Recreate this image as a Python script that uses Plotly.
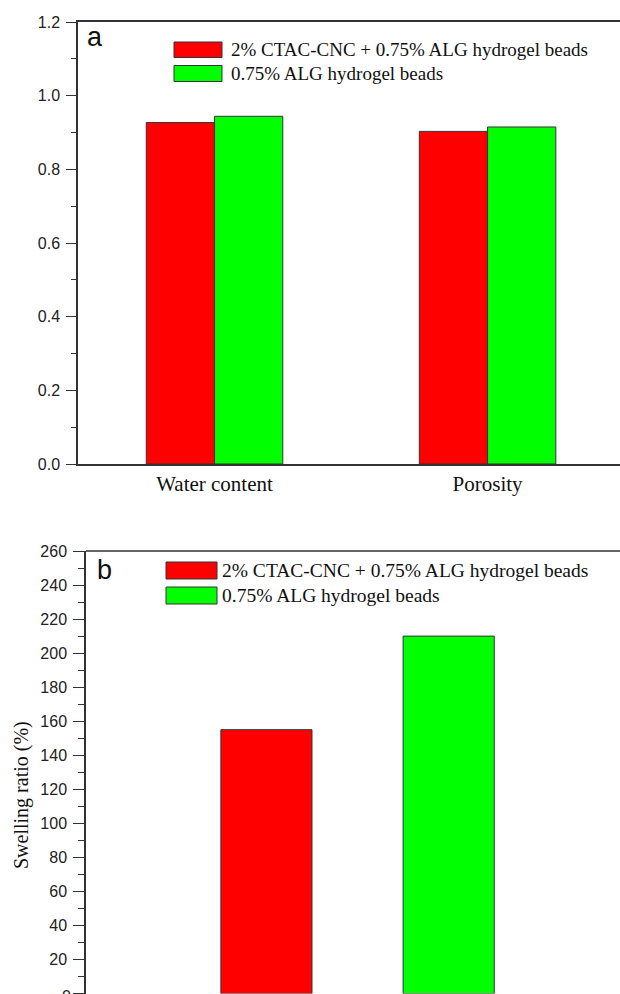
import plotly.graph_objects as go

# ---- data ----
properties = ["Water content", "Porosity"]
composite_props = [0.927, 0.903]     # 2% CTAC-CNC + 0.75% ALG hydrogel beads
alg_props = [0.944, 0.915]           # 0.75% ALG hydrogel beads
series_names = ["2% CTAC-CNC + 0.75% ALG hydrogel beads", "0.75% ALG hydrogel beads"]
swelling = [155, 210]                # Swelling ratio (%)
colors = ["#ff0000", "#00ff00"]

W, H = 620, 994
SERIF = "Liberation Serif, Times New Roman, serif"
SANS = "Liberation Sans, Arial, sans-serif"
LINE = "#333333"

def px(x):
    return x / W

def py(y):
    return 1 - y / H

fig = go.Figure()
fig.add_trace(go.Bar(x=properties, y=composite_props, name=series_names[0],
                     marker=dict(color=colors[0], line=dict(color=LINE, width=1)),
                     xaxis="x", yaxis="y", showlegend=False))
fig.add_trace(go.Bar(x=properties, y=alg_props, name=series_names[1],
                     marker=dict(color=colors[1], line=dict(color=LINE, width=1)),
                     xaxis="x", yaxis="y", showlegend=False))
fig.add_trace(go.Bar(x=series_names, y=swelling,
                     marker=dict(color=colors, line=dict(color=LINE, width=1)),
                     xaxis="x2", yaxis="y2", showlegend=False))

tickfont = dict(family=SANS, size=16, color="#222")

fig.update_layout(
    width=W, height=H, autosize=False,
    margin=dict(l=0, r=0, t=0, b=0),
    paper_bgcolor="white", plot_bgcolor="white",
    barmode="group", bargap=0.5, bargroupgap=0,
    xaxis=dict(domain=[px(78), 1], anchor="y", range=[-0.5, 1.485], automargin=False,
               showline=True, linecolor=LINE, linewidth=1.5, mirror=True,
               ticks="", showgrid=False, zeroline=False,
               tickfont=dict(family=SERIF, size=21, color="#111")),
    yaxis=dict(domain=[py(464), py(22)], anchor="x", range=[0, 1.2], automargin=False,
               dtick=0.2, tickformat=".1f",
               showline=True, linecolor=LINE, linewidth=1.5,
               ticks="outside", ticklen=10, tickwidth=1.2, tickcolor=LINE,
               ticklabelstandoff=3,
               minor=dict(dtick=0.1, ticks="outside", ticklen=5, tickcolor=LINE, tickwidth=1.2),
               showgrid=False, zeroline=False, tickfont=tickfont),
    xaxis2=dict(domain=[px(86), 1], anchor="y2", range=[-0.99, 1.94], automargin=False,
                showline=True, linecolor="#cfcfcf", linewidth=1.5, mirror=False,
                ticks="", showticklabels=False, showgrid=False, zeroline=False),
    yaxis2=dict(domain=[py(993.5), py(551)], anchor="x2", range=[0, 260], automargin=False,
                dtick=20,
                showline=True, linecolor=LINE, linewidth=1.5,
                ticks="outside", ticklen=11, tickwidth=1.2, tickcolor=LINE,
                ticklabelstandoff=3,
                minor=dict(dtick=10, ticks="outside", ticklen=6, tickcolor=LINE, tickwidth=1.2),
                showgrid=False, zeroline=False, tickfont=tickfont),
)

shapes = []
annotations = []

# top border of panel b
shapes.append(dict(type="line", xref="paper", yref="paper", x0=px(86), x1=1,
                   y0=py(551), y1=py(551), line=dict(color=LINE, width=1.5)))

def legend(x0, x1, rows, text_x, size):
    for (y0, y1), col, name in rows:
        shapes.append(dict(type="rect", xref="paper", yref="paper",
                           x0=px(x0), x1=px(x1), y0=py(y1), y1=py(y0),
                           fillcolor=col, line=dict(color=LINE, width=1)))
        annotations.append(dict(xref="paper", yref="paper", x=px(text_x), y=py((y0 + y1) / 2),
                                text=name, showarrow=False, xanchor="left", yanchor="middle",
                                font=dict(family=SERIF, size=size, color="#111")))

legend(174, 222, [((42, 57.5), colors[0], series_names[0]), ((65.5, 81.5), colors[1], series_names[1])], 229, 19)
legend(166, 217, [((562, 579), colors[0], series_names[0]), ((587, 604), colors[1], series_names[1])], 220, 19.5)

annotations.append(dict(xref="paper", yref="paper", x=px(95), y=py(37), text="a", showarrow=False,
                        xanchor="center", yanchor="middle", font=dict(family=SANS, size=27, color="#111")))
annotations.append(dict(xref="paper", yref="paper", x=px(104), y=py(570), text="b", showarrow=False,
                        xanchor="center", yanchor="middle", font=dict(family=SANS, size=27, color="#111")))
annotations.append(dict(xref="paper", yref="paper", x=px(21), y=py(795), text="Swelling ratio (%)",
                        showarrow=False, textangle=-90, xanchor="center", yanchor="middle",
                        font=dict(family=SERIF, size=20, color="#111")))
# partially cut-off "0" tick label at the bottom edge (as in the cropped original)
annotations.append(dict(xref="x2 domain", yref="y2", x=0, y=0, text="0", showarrow=False,
                        xanchor="right", yanchor="middle", xshift=-13, yshift=-3,
                        font=tickfont))

fig.update_layout(shapes=shapes, annotations=annotations)
fig.write_html("out.html")
